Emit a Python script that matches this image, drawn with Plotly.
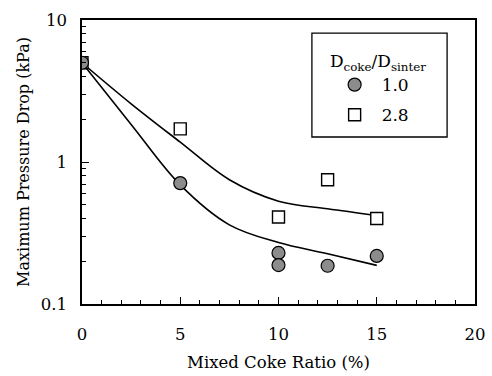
import plotly.graph_objects as go

# Measured maximum pressure drop (kPa) vs. mixed coke ratio (%)
ratio_10 = [0, 5, 10, 10, 12.5, 15]
drop_10 = [5.0, 0.71, 0.229, 0.188, 0.186, 0.218]

ratio_28 = [0, 5, 10, 12.5, 15]
drop_28 = [5.0, 1.71, 0.41, 0.75, 0.40]

# Trend curves through each data set
curve_x = [0, 2.5, 5, 7.5, 10, 12.5, 15]
curve_10 = [5.0, 1.84, 0.69, 0.361, 0.271, 0.226, 0.187]
curve_28 = [5.0, 2.57, 1.38, 0.75, 0.53, 0.468, 0.42]

x_ticks = [0, 5, 10, 15, 20]
y_ticks = [0.1, 1, 10]
y_tick_text = ["0.1", "1", "10"]
y_minor = [m * 0.1 for m in range(2, 10)] + [m * 1.0 for m in range(2, 10)]

serif = "DejaVu Serif"

fig = go.Figure()

for cy in (curve_28, curve_10):
    fig.add_trace(go.Scatter(
        x=curve_x, y=cy, mode="lines", showlegend=False,
        line=dict(color="black", width=1.6, shape="spline", smoothing=1.0),
        hoverinfo="skip"))

fig.add_trace(go.Scatter(
    x=ratio_28, y=drop_28, mode="markers", name="2.8",
    legendgroup="b", legendrank=2,
    marker=dict(symbol="square", size=12, color="white",
                line=dict(color="black", width=1.4))))

fig.add_trace(go.Scatter(
    x=ratio_10, y=drop_10, mode="markers", name="1.0",
    legendgroup="a", legendrank=1,
    marker=dict(symbol="circle", size=13, color="#8c8c8c",
                line=dict(color="black", width=1.2))))

# legend frame
fig.add_shape(type="rect", xref="paper", yref="paper",
              x0=0.585, x1=0.929, y0=0.588, y1=0.954,
              line=dict(color="black", width=1.3), fillcolor="white", layer="below")

fig.update_layout(
    width=492, height=376,
    margin=dict(l=82, r=17, t=20, b=72),
    paper_bgcolor="white", plot_bgcolor="white",
    font=dict(family=serif, size=16.5, color="black"),
    legend=dict(
        title=dict(text="D<sub>coke</sub>/D<sub>sinter</sub>", side="top center",
                   font=dict(family=serif, size=17)),
        traceorder="grouped",
        x=0.625, y=0.912, xanchor="left", yanchor="top",
        bgcolor="rgba(0,0,0,0)", borderwidth=0,
        font=dict(family=serif, size=17),
        tracegroupgap=5, itemwidth=44,
    ),
)

fig.update_xaxes(
    range=[0, 20], tickvals=x_ticks,
    showline=True, linecolor="black", linewidth=1.5, mirror=True,
    ticks="inside", ticklen=7, tickcolor="black", tickwidth=1,
    minor=dict(ticks="inside", ticklen=4, dtick=1, tickcolor="black", showgrid=False),
    showgrid=False, zeroline=False, automargin=False,
    title=dict(text="Mixed Coke Ratio (%)", standoff=14, font=dict(size=16.5)),
    ticklabelstandoff=14,
)

fig.update_yaxes(
    type="log", range=[-1, 1], tickvals=y_ticks, ticktext=y_tick_text,
    showline=True, linecolor="black", linewidth=1.5, mirror=True,
    ticks="inside", ticklen=7, tickcolor="black", tickwidth=1,
    minor=dict(ticks="inside", ticklen=4, tickcolor="black", showgrid=False,
               tickmode="array", tickvals=y_minor),
    showgrid=False, zeroline=False, automargin=False,
    title=dict(text="Maximum Pressure Drop (kPa)", standoff=7, font=dict(size=16)),
    ticklabelstandoff=10,
)

fig.write_html("out.html")
